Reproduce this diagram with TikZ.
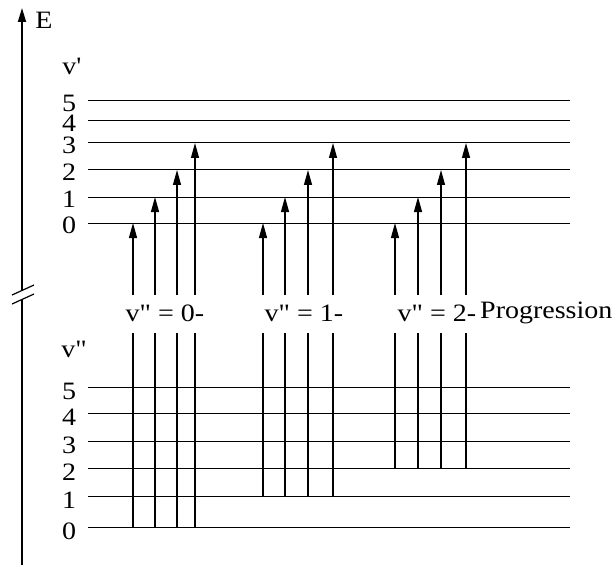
\documentclass[tikz,border=0pt]{standalone}
\usepackage{fontspec}
\setmainfont{Liberation Serif}
\newfontfamily\figfont[FakeStretch=1.12, Ligatures=TeXOff]{Liberation Serif}
\usetikzlibrary{arrows.meta}

\begin{document}
\begin{tikzpicture}[x=1pt, y=-1pt]
    % Define styles
    \tikzset{
        level/.style={line width=1pt},
        trans/.style={line width=1.2pt},
        transarrow/.style={
            line width=1.2pt,
            -{Triangle[length=15pt, width=8pt]}
        },
        axis/.style={line width=1.8pt},
        label/.style={
            font=\figfont\fontsize{25}{29}\selectfont,
            inner sep=0pt
        }
    }
    \useasboundingbox (0,0) rectangle (616,567);

    % Energy axis with break
    \coordinate (axbot) at (22,565);
    \coordinate (axlo) at (22,300);
    \coordinate (axhi) at (22,290);
    \coordinate (axtop) at (22,8);
    \draw[axis] (axbot) -- (axlo);
    \draw[axis, -{Triangle[length=14pt, width=8pt]}] (axhi) -- (axtop);
    \draw[line width=1.2pt] (12,295) -- (34,285);
    \draw[line width=1.2pt] (12,304) -- (34,294);
    \node[label] (E) at (44,20) {E};

    % Upper state v'
    \node[label] (vup) at (72,66) {v'};
    \foreach \v/\y in {0/223, 1/197, 2/170, 3/143, 4/121, 5/101} {
        \node[label] (up\v) at (69,{\y+2}) {\v};
        \coordinate (upL\v) at (88,\y);
        \coordinate (upR\v) at (570,\y);
        \draw[level] (upL\v) -- (upR\v);
    }

    % Lower state v''
    \node[label] (vlo) at (74,349) {v"};
    \foreach \v/\y in {0/527, 1/496, 2/468, 3/441, 4/413, 5/387} {
        \node[label] (lo\v) at (69,{\y+4}) {\v};
        \coordinate (loL\v) at (88,\y);
        \coordinate (loR\v) at (570,\y);
        \draw[level] (loL\v) -- (loR\v);
    }

    % Gap for the progression labels
    \coordinate (gaptop) at (0,295);
    \coordinate (gapbot) at (0,333);

    % Progressions
    \foreach \g/\xa/\xb/\xc/\xd/\xt in {0/133/155/177/195/165, 1/263/285/308/333/304, 2/395/418/441/466/437} {
        \node[label] (prog\g) at (\xt,313) {v" = \g-};
        \foreach \x [count=\i from 0] in {\xa,\xb,\xc,\xd} {
            \coordinate (st\g\i) at (\x,0 |- loL\g);
            \coordinate (en\g\i) at (\x,0 |- upL\i);
            \draw[trans] (st\g\i) -- (st\g\i |- gapbot);
            \draw[transarrow] (st\g\i |- gaptop) -- (en\g\i);
        }
    }
    \node[label, anchor=west] (progtext) at (480,313) {Progression};

\end{tikzpicture}
\end{document}
